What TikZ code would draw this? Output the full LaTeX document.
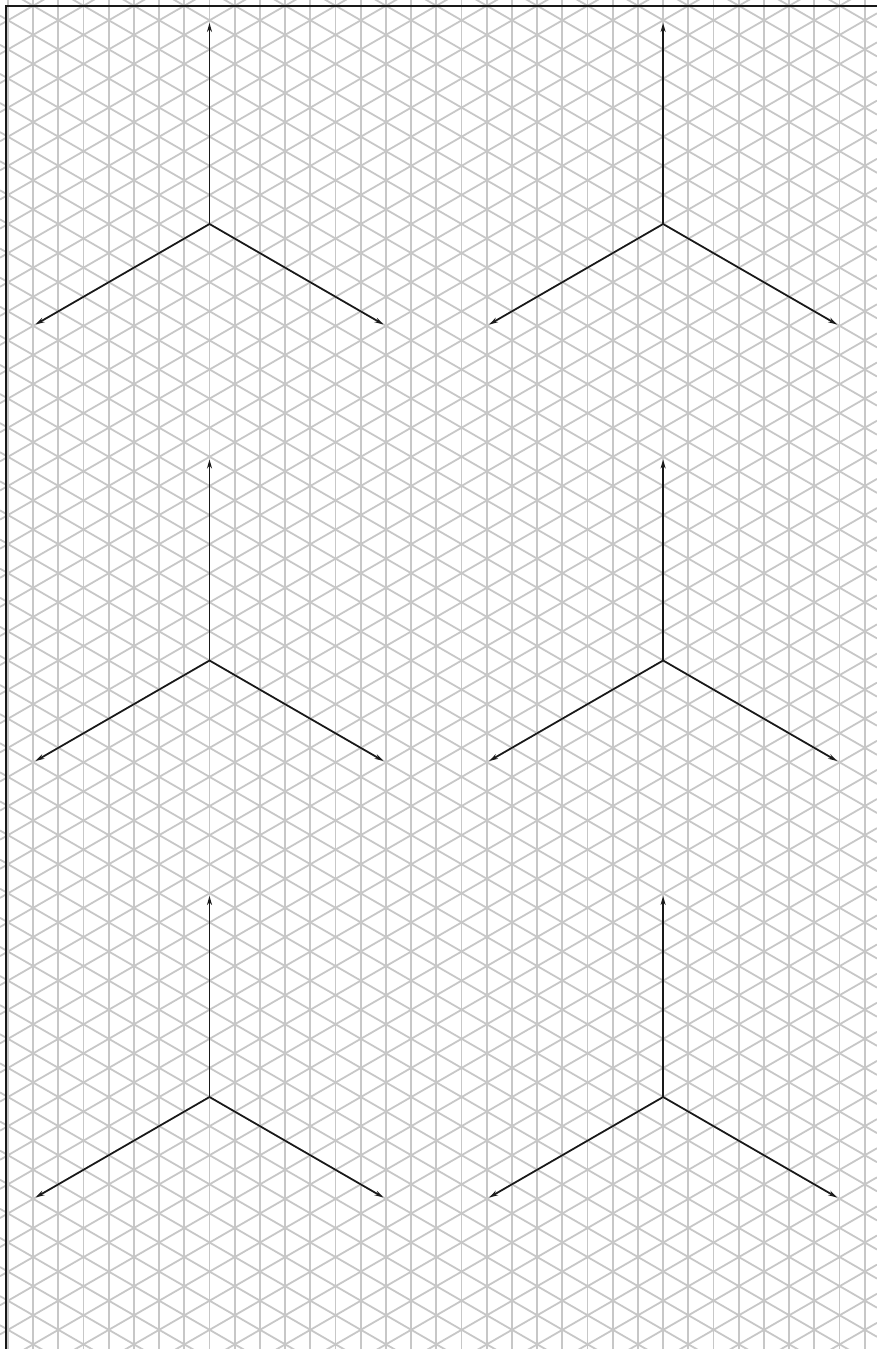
\documentclass[tikz,border=0pt]{standalone}
\usepackage{tikz}
\usetikzlibrary{arrows.meta}
\def\isostep{25.2}   % horizontal gap between vertical grid lines
\def\isorise{29.1}   % vertical gap between grid points

\begin{document}
\begin{tikzpicture}[
  x=1pt, y=-1pt,
  gridline/.style={draw=black!22, line width=1.8pt},
  frame/.style={draw=black!90, line width=2.5pt},
  axis/.style={-{Stealth[length=9pt, width=5pt]}, line width=1.7pt, black!90},
]

  \useasboundingbox (0,0) rectangle (877,1349);
  \clip (0,0) rectangle (877,1349);

  % Isometric grid: vertical lines
  \foreach \k in {0,...,35} {
    \draw [gridline] ({7.9+\k*\isostep},0) -- ++(0,1349);
  }

  % Isometric grid: falling and rising lines
  \foreach \n in {-22,...,44} {
    \draw [gridline] (0,{103.0+\n*\isorise}) -- (877,{103.0+\n*\isorise+506.3});
  }
  \foreach \n in {-13,...,53} {
    \draw [gridline] (0,{345.0+\n*\isorise}) -- (877,{345.0+\n*\isorise-506.3});
  }

  % Sheet frame (only left and top edge visible)
  \draw [frame] (6,6) rectangle (920,1400);

  % Axis crosses
  \foreach \col in {0,1} {
    \foreach \row in {0,1,2} {
      \coordinate (o\col\row) at ({209.5+\col*453.6},{224+\row*436.5});
      \draw [axis] (o\col\row) -- ++(0,-201);
      \draw [axis] (o\col\row) -- ++(-174,100.5);
      \draw [axis] (o\col\row) -- ++(174,100.5);
    }
  }

\end{tikzpicture}
\end{document}
